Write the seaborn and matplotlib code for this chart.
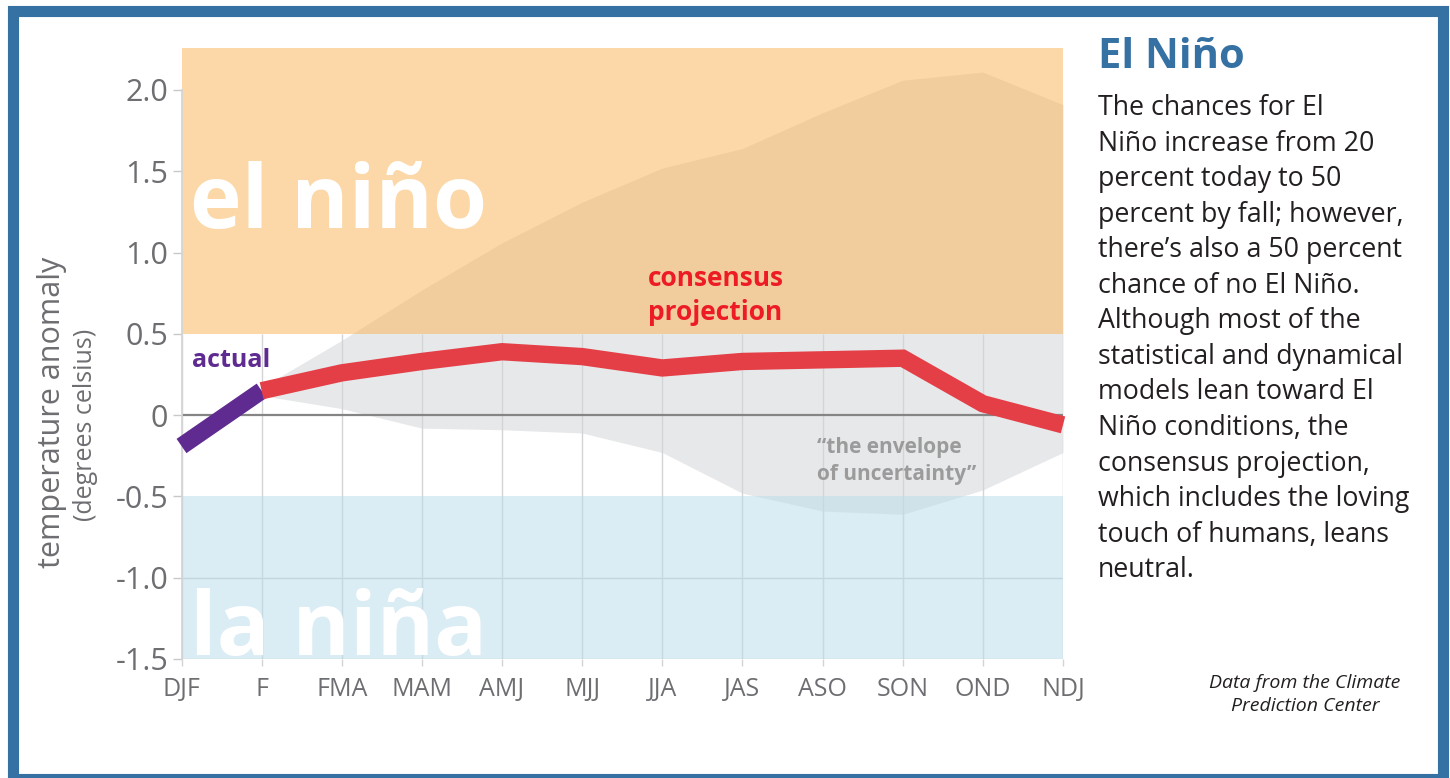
import pandas as pd
import seaborn as sns
import matplotlib.pyplot as plt
from matplotlib.patches import Rectangle

# values
seasons = ["DJF", "F", "FMA", "MAM", "AMJ", "MJJ", "JJA", "JAS", "ASO", "SON", "OND", "NDJ"]
actual_seasons = ["DJF", "F"]
actual = [-0.19, 0.15]
proj_seasons = seasons[1:]
consensus = [0.15, 0.26, 0.33, 0.39, 0.36, 0.29, 0.33, 0.34, 0.35, 0.07, -0.06]
env_upper = [0.17, 0.46, 0.77, 1.06, 1.31, 1.52, 1.64, 1.86, 2.06, 2.11, 1.91]
env_lower = [0.12, 0.04, -0.08, -0.09, -0.11, -0.23, -0.48, -0.59, -0.61, -0.46, -0.23]
yticks = [2.0, 1.5, 1.0, 0.5, 0, -0.5, -1.0, -1.5]
ytick_labels = ["2.0", "1.5", "1.0", "0.5", "0", "-0.5", "-1.0", "-1.5"]
el_nino_threshold = 0.5
la_nina_threshold = -0.5

pos = {s: i for i, s in enumerate(seasons)}
df_actual = pd.DataFrame({"x": [pos[s] for s in actual_seasons], "anomaly": actual})
df_proj = pd.DataFrame({"x": [pos[s] for s in proj_seasons], "anomaly": consensus,
                        "upper": env_upper, "lower": env_lower})

sns.set_theme(style="white")
plt.rcParams["font.family"] = ["Open Sans", "DejaVu Sans"]

gray_txt = "#6d6e71"
fig = plt.figure(figsize=(14.5, 7.78), dpi=100)
ax = fig.add_axes([181.5 / 1450, 1 - 659 / 778, (1063 - 181.5) / 1450, (659 - 48) / 778])
ax.set_xlim(0, len(seasons) - 1)
ax.set_ylim(-1.5, 2.258)
ax.patch.set_visible(False)

# envelope of uncertainty (under the bands)
ax.fill_between(df_proj["x"], df_proj["lower"], df_proj["upper"],
                color="#e7e8ea", lw=0, zorder=0.5)

# grid (only below the el nino band)
ax.vlines(range(len(seasons)), -1.5, el_nino_threshold, color="#d3d4d6", lw=1, zorder=0.8)
for y in yticks:
    if y < la_nina_threshold:
        ax.axhline(y, color="#c9cfd3", lw=1, zorder=0.8)

# el nino / la nina bands
ax.axhspan(el_nino_threshold, 2.258, color="#fbb861", alpha=0.55, lw=0, zorder=1)
ax.axhspan(-1.5, la_nina_threshold, color="#bcdeeb", alpha=0.55, lw=0, zorder=1)

ax.axhline(0, color="#858585", lw=1.6, zorder=2)

sns.lineplot(data=df_actual, x="x", y="anomaly", color="#5f2b90", lw=12.5,
             solid_capstyle="butt", solid_joinstyle="miter", errorbar=None,
             ax=ax, zorder=3, clip_on=False)
sns.lineplot(data=df_proj, x="x", y="anomaly", color="#e43f47", lw=12.5,
             solid_capstyle="butt", solid_joinstyle="miter", errorbar=None,
             ax=ax, zorder=3, clip_on=False)

# labels inside the chart
ax.text(0.1, 1.15, "el niño", color="white", fontsize=63, fontweight="bold",
        va="baseline", zorder=4)
ax.text(0.1, -1.478, "la niña", color="white", fontsize=63, fontweight="bold",
        va="baseline", zorder=4)
ax.text(0.13, 0.296, "actual", color="#5f2b90", fontsize=18, fontweight="bold",
        va="baseline", zorder=4)
ax.text(5.82, 0.585, "consensus\nprojection", color="#ed1c24", fontsize=19,
        fontweight="bold", va="baseline", linespacing=1.32, zorder=4)
ax.text(7.93, -0.40, "\u201cthe envelope\nof uncertainty\u201d", color="#9b9b9b",
        fontsize=15, fontweight="bold", va="baseline", linespacing=1.4, zorder=4)

# axes styling
for side in ["top", "right", "bottom"]:
    ax.spines[side].set_visible(False)
ax.spines["left"].set_color("#d3d4d6")
ax.spines["left"].set_bounds(-1.5, 2.0)
ax.set_xticks(range(len(seasons)))
ax.set_xticklabels(seasons)
ax.set_yticks(yticks)
ax.set_yticklabels(ytick_labels)
ax.tick_params(axis="y", length=6.5, width=1, color="#c8c8c8", pad=3,
               labelsize=22, labelcolor=gray_txt, left=True)
ax.tick_params(axis="x", length=5, width=1, color="#d3d4d6", pad=8,
               labelsize=18, labelcolor=gray_txt, bottom=True)
ax.set_xlabel("")
ax.set_ylabel("")

fig.text(52 / 1450, 1 - 412 / 778, "temperature anomaly", rotation=90, fontsize=22,
         color=gray_txt, ha="center", va="center")
fig.text(86 / 1450, 1 - 425 / 778, "(degrees celsius)", rotation=90, fontsize=18,
         color=gray_txt, ha="center", va="center")

# right-hand panel
fig.text(1098 / 1450, 1 - 68 / 778, "El Niño", color="#3572a3", fontsize=30,
         fontweight="bold", va="baseline")
body = ("The chances for El\nNiño increase from 20\npercent today to 50\n"
        "percent by fall; however,\nthere’s also a 50 percent\nchance of no El Niño.\n"
        "Although most of the\nstatistical and dynamical\nmodels lean toward El\n"
        "Niño conditions, the\nconsensus projection,\nwhich includes the loving\n"
        "touch of humans, leans\nneutral.")
fig.text(1098 / 1450, 1 - 94 / 778, body, color="#231f20", fontsize=19.3,
         va="top", linespacing=1.36)
fig.text(1305 / 1450, 1 - 711 / 778, "Data from the Climate\nPrediction Center",
         color="#231f20", fontsize=14, style="italic", ha="center", va="baseline",
         linespacing=1.35)

# blue frame
fig.patches.append(Rectangle((12.5 / 1450, 1 - 778.5 / 778), (1442.5 - 12.5) / 1450,
                             (778.5 - 10.5) / 778, transform=fig.transFigure,
                             fill=False, ec="#3572a3", lw=8))

fig.savefig("out.png", dpi=100)
